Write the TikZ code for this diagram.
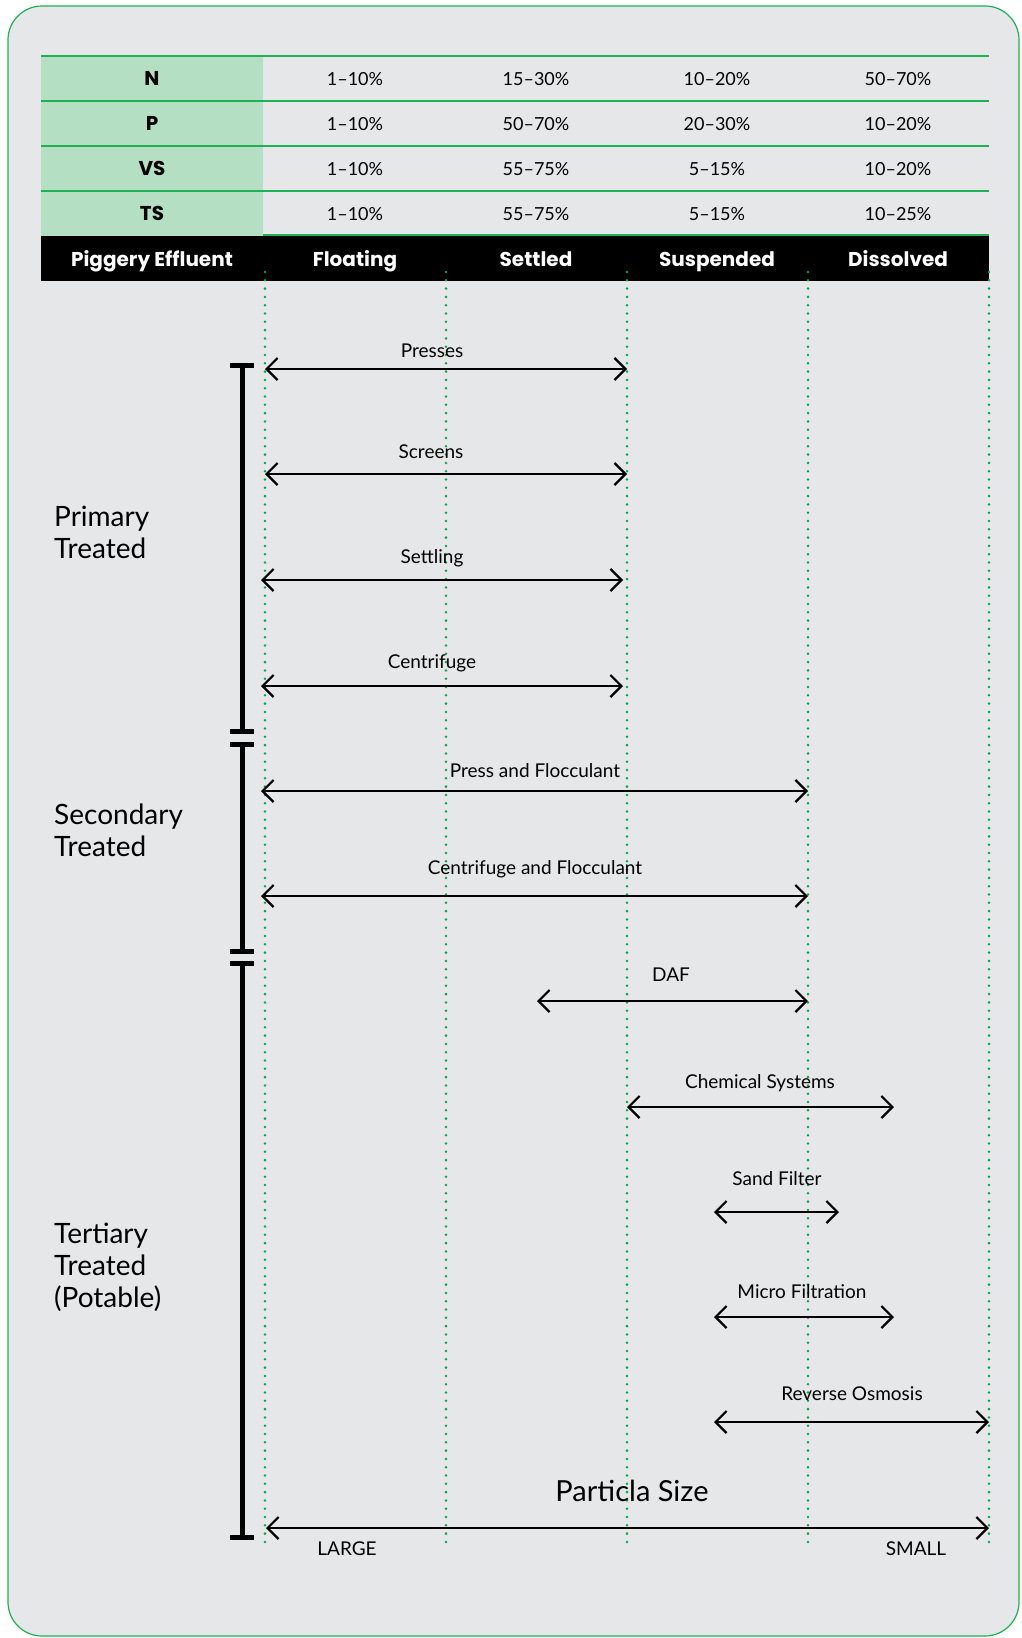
\documentclass[tikz,border=0pt]{standalone}
\usepackage{fontspec}
\setmainfont{Lato}
\newfontfamily\headfont{Poppins}
\usetikzlibrary{arrows.meta, positioning}
\definecolor{panel}{HTML}{E6E7E8}
\definecolor{rim}{HTML}{1DB254}
\definecolor{mint}{HTML}{B5DFC3}
\definecolor{dots}{HTML}{00A651}

\tikzset{
  span/.style={{Straight Barb[length=11pt,width=22pt]}-{Straight Barb[length=11pt,width=22pt]}, line width=2.2pt},
  lbl/.style={anchor=base, font=\fontsize{19}{21}\selectfont},
  cell/.style={anchor=base, font=\fontsize{18}{20}\selectfont},
  key/.style={anchor=base, font=\headfont\bfseries\fontsize{20}{22}\selectfont},
  head/.style={anchor=base, text=white, font=\headfont\bfseries\fontsize{20}{22}\selectfont},
  stage/.style={anchor=west, align=left, inner sep=0pt, font=\fontsize{28}{32}\selectfont},
  rule/.style={dots, line width=2.8pt, line cap=round, dash pattern=on 0pt off 8.3pt},
  bar/.style={line width=5pt},
}

\begin{document}
\begin{tikzpicture}[x=1pt, y=-1pt]
\useasboundingbox (0,0) rectangle (1021,1638);
\fill[white] (0,0) rectangle (1021,1638);
\draw[rim, line width=1.2pt, fill=panel, rounded corners=34pt] (8,6) rectangle (1019,1636);

% table
\fill[mint] (41,56) rectangle (263,236);
\foreach \y in {56,101,146,191}
  \draw[rim, line width=1.2pt] (41,\y) -- (989,\y);
\draw[rim, line width=3pt] (263,235) -- (989,235);
\fill[black] (41,236) rectangle (989,281);

\foreach \k/\a/\b/\c/\d [count=\r] in {N/1--10\%/15--30\%/10--20\%/50--70\%,
    P/1--10\%/50--70\%/20--30\%/10--20\%,
    VS/1--10\%/55--75\%/5--15\%/10--20\%,
    TS/1--10\%/55--75\%/5--15\%/10--25\%}{
  \pgfmathsetmacro{\yy}{85.5+45*(\r-1)}
  \node[key]  (k\r) at (152,\yy) {\k};
  \node[cell] (a\r) at (355,\yy) {\a};
  \node[cell] (b\r) at (536,\yy) {\b};
  \node[cell] (c\r) at (717,\yy) {\c};
  \node[cell] (d\r) at (898,\yy) {\d};
}

\foreach \t/\x [count=\i] in {Piggery Effluent/152, Floating/355, Settled/536, Suspended/717, Dissolved/898}
  \node[head] (h\i) at (\x,266) {\t};

% guides
\foreach \x in {265,446,627,808,989}
  \draw[rule] (\x,272) -- (\x,1543);

% stage bracket
\foreach \a/\b in {365/731, 744/951, 963/1537}{
  \draw[bar] (242,\a) -- (242,\b);
  \draw[bar] (230,\a) -- (254,\a);
  \draw[bar] (230,\b) -- (254,\b);
}
\node[stage] (prim) at (54,532) {Primary\\Treated};
\node[stage] (sec)  at (54,830) {Secondary\\Treated};
\node[stage] (ter)  at (54,1267) {Tertiary\\Treated\\(Potable)};

% processes
\foreach \t/\xa/\xb/\y/\lx/\ly [count=\i] in {
    Presses/265/627/369/432/357,
    Screens/265/627/474/431/458,
    Settling/261/623/580/432/563,
    Centrifuge/261/623/686/432/668,
    Press and Flocculant/261/808/791/535/777,
    Centrifuge and Flocculant/261/808/896/535/874,
    DAF/537/808/1001/671/981,
    Chemical Systems/627/894/1107/760/1088,
    Sand Filter/714/839/1212/777/1185,
    Micro Filtration/714/894/1317/802/1298,
    Reverse Osmosis/714/989/1422/852/1400}{
  \coordinate (s\i) at (\xa,\y);
  \coordinate (e\i) at (\xb,\y);
  \draw[span] (s\i) -- (e\i);
  \node[lbl] (l\i) at (\lx,\ly) {\t};
}

% particle size
\coordinate (big) at (266,1528);
\coordinate (small) at (989,1528);
\draw[span] (big) -- (small);
\node[lbl, font=\fontsize{29}{32}\selectfont] (ps) at (632,1501) {Particla Size};
\node[lbl] (lg) at (347,1555) {LARGE};
\node[lbl] (sm) at (916,1555) {SMALL};
\end{tikzpicture}
\end{document}
